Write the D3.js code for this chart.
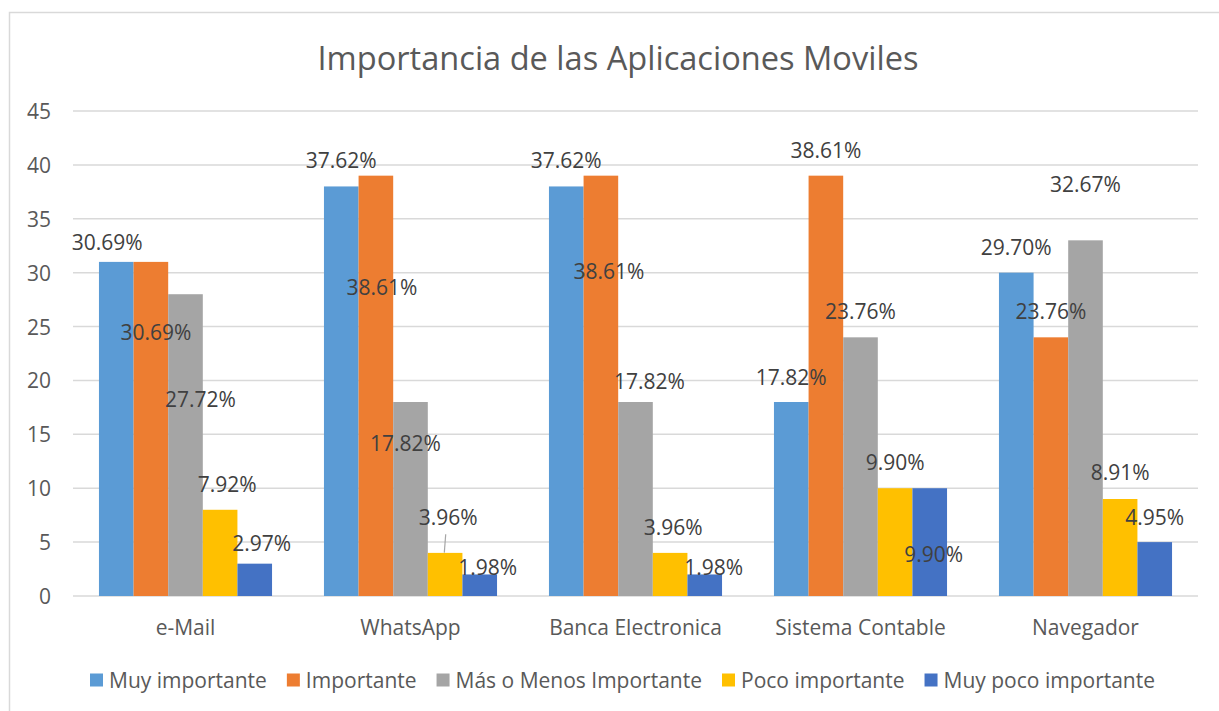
<!DOCTYPE html>
<html>
<head>
<meta charset="utf-8">
<script src="https://cdn.jsdelivr.net/npm/d3@7"></script>
<style>
  body { margin: 0; background: #fff; }
  svg { font-family: "Open Sans", sans-serif; }
</style>
</head>
<body>
<div id="chart"></div>
<script>
// data (counts out of 101 respondents)
var categories = ["e-Mail", "WhatsApp", "Banca Electronica", "Sistema Contable", "Navegador"];
var seriesNames = ["Muy importante", "Importante", "Más o Menos Importante", "Poco importante", "Muy poco importante"];
var muyImportante = [31, 38, 38, 18, 30];
var importante = [31, 39, 39, 39, 24];
var masOMenos = [28, 18, 18, 24, 33];
var poco = [8, 4, 4, 10, 9];
var muyPoco = [3, 2, 2, 10, 5];
var respondents = 101;
var yTicks = [0, 5, 10, 15, 20, 25, 30, 35, 40, 45];

var colors = ["#5b9bd5", "#ed7d31", "#a5a5a5", "#ffc000", "#4472c4"];

// label nudges (dx, dy from bar top centre), the labels were dragged around in the original
var labelNudge = [
	[[-9, -20], [0, -26], [0, -26], [0, -25], [0, -26]],
	[[5, 70], [6, 111], [8, 95], [0, -26], [0, -26]],
	[[15, 105], [-5, 41], [14, -21], [0, -26], [0, -56]],
	[[7, -26], [3, -36], [3, -26], [0, -26], [0, -27]],
	[[7, -21], [8, -7], [9, -7], [4, 66], [0, -25]]
];

var series = [muyImportante, importante, masOMenos, poco, muyPoco];

var width = 1219, height = 711;
var svg = d3.select("#chart").append("svg")
	.attr("width", width)
	.attr("height", height);

// chart frame
svg.append("rect")
	.attr("x", 9.5).attr("y", 12.5)
	.attr("width", width).attr("height", height)
	.attr("fill", "none")
	.attr("stroke", "#d9d9d9")
	.attr("stroke-width", 1.5);

svg.append("text")
	.attr("x", 618).attr("y", 57)
	.attr("text-anchor", "middle")
	.attr("dominant-baseline", "central")
	.attr("font-size", 32.6)
	.attr("fill", "#595959")
	.text("Importancia de las Aplicaciones Moviles");

var x = d3.scaleBand().domain(categories).range([73, 1198]).padding(0);
var xInner = d3.scaleBand().domain(d3.range(seriesNames.length))
	.range([0, x.bandwidth()]).paddingInner(0).paddingOuter(0.75);
var y = d3.scaleLinear().domain([0, 45]).range([596, 111]);

// gridlines
svg.append("g").selectAll("line")
	.data(yTicks)
	.join("line")
	.attr("x1", 73).attr("x2", 1198)
	.attr("y1", d => y(d)).attr("y2", d => y(d))
	.attr("stroke", "#d9d9d9")
	.attr("stroke-width", 1.5);

// y tick labels
svg.append("g").selectAll("text")
	.data(yTicks)
	.join("text")
	.attr("x", 51).attr("y", d => y(d))
	.attr("text-anchor", "end")
	.attr("dominant-baseline", "central")
	.attr("font-size", 21)
	.attr("fill", "#595959")
	.text(d => d);

// x labels
svg.append("g").selectAll("text")
	.data(categories)
	.join("text")
	.attr("x", d => x(d) + x.bandwidth() / 2)
	.attr("y", 627)
	.attr("text-anchor", "middle")
	.attr("dominant-baseline", "central")
	.attr("font-size", 21)
	.attr("fill", "#595959")
	.text(d => d);

var fmt = d3.format(".2%");

for (let s = 0; s < series.length; ++s) {
	var g = svg.append("g").attr("class", "series s" + s);
	g.selectAll("rect")
		.data(series[s])
		.join("rect")
		.attr("x", (d, i) => x(categories[i]) + xInner(s))
		.attr("y", d => y(d))
		.attr("width", xInner.bandwidth())
		.attr("height", d => y(0) - y(d))
		.attr("fill", colors[s]);
}

// leader line for the WhatsApp 3.96% label
svg.append("line")
	.attr("x1", x(categories[1]) + xInner(3) + xInner.bandwidth() / 2 + 0.6)
	.attr("y1", y(poco[1]) - 18.7)
	.attr("x2", x(categories[1]) + xInner(3) + xInner.bandwidth() / 2 - 0.8)
	.attr("y2", y(poco[1]) - 0.3)
	.attr("stroke", "#a6a6a6")
	.attr("stroke-width", 1.2);

for (let s = 0; s < series.length; ++s) {
	svg.append("g").selectAll("text")
		.data(series[s])
		.join("text")
		.attr("x", (d, i) => x(categories[i]) + xInner(s) + xInner.bandwidth() / 2 + labelNudge[s][i][0])
		.attr("y", (d, i) => y(d) + labelNudge[s][i][1])
		.attr("text-anchor", "middle")
		.attr("dominant-baseline", "central")
		.attr("font-size", 21)
		.attr("fill", "#404040")
		.text(d => fmt(d / respondents));
}

// legend
var legend = svg.append("g").attr("class", "legend");
var lx = 90;
seriesNames.forEach(function(name, i) {
	legend.append("rect")
		.attr("x", lx).attr("y", 673.5)
		.attr("width", 13).attr("height", 13)
		.attr("fill", colors[i]);
	var t = legend.append("text")
		.attr("x", lx + 19).attr("y", 680)
		.attr("dominant-baseline", "central")
		.attr("font-size", 21)
		.attr("fill", "#595959")
		.text(name);
	lx += 19 + t.node().getComputedTextLength() + 20;
});
</script>
</body>
</html>
